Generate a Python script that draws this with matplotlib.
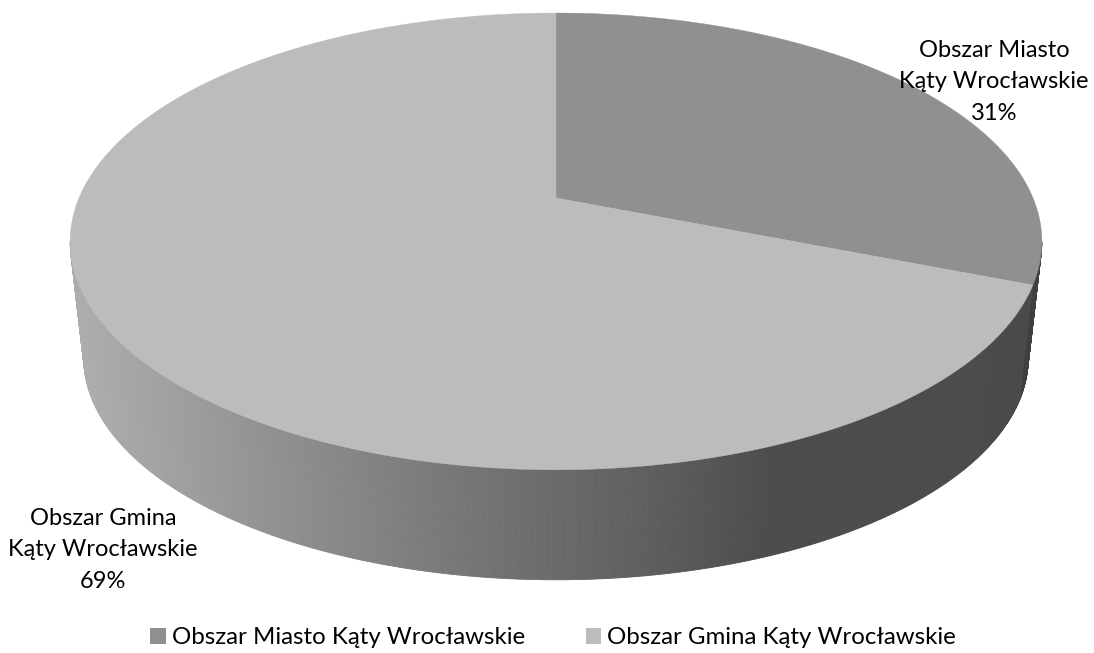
# -*- coding: utf-8 -*-
import matplotlib
matplotlib.use('Agg')
import matplotlib.pyplot as plt
from matplotlib.patches import Polygon, Patch
import numpy as np

labels = ['Obszar Miasto\nKąty Wrocławskie', 'Obszar Gmina\nKąty Wrocławskie']
legend_labels = ['Obszar Miasto Kąty Wrocławskie', 'Obszar Gmina Kąty Wrocławskie']
shares = [31, 69]
colors = ['#909090', '#bcbcbc']
side_colors = ['#3f3f3f', None]

plt.rcParams['font.family'] = ['Lato', 'DejaVu Sans']

# perspective of the pie top, in image pixels
CX, CY = 556, 198
K, B, A = 0.190, 182.5, 477.0
# side face: top rim scaled towards a vanishing point below the pie
SCALE, VY = 0.972, 4400.0


def project(theta):
    """ theta is clockwise from 12 o'clock """
    x, y = np.sin(theta), np.cos(theta)
    den = 1 + K * y
    return CX + A * x / den, (CY - B * y) / den


def lower(px, py):
    return CX + SCALE * (px - CX), VY + SCALE * (py - VY)


def side_grey(x):
    return np.interp(x, [75, 250, 450, 650, 770, 1050], [0.68, 0.58, 0.47, 0.37, 0.30, 0.29])


fig = plt.figure(figsize=(10.94, 6.53), dpi=100)
ax = fig.add_axes([0, 0, 1, 1])
ax.set_xlim(0, 1094)
ax.set_ylim(653, 0)
ax.axis('off')

edges = np.cumsum([0] + shares) / sum(shares) * 2 * np.pi

# side face as thin strips, only from widest point to widest point
start = np.arccos(-K)
thetas = np.linspace(start, 2 * np.pi - start, 500)
order = np.argsort(np.abs(thetas - np.pi))[::-1]
for i in order:
    if i == len(thetas) - 1:
        continue
    t = np.array([thetas[i], thetas[i + 1]])
    px, py = project(t)
    qx, qy = lower(px, py)
    g = side_grey(px.mean())
    c = (g, g, g)
    if thetas[i] < edges[1]:
        c = side_colors[0]
    ax.add_patch(Polygon([(px[0], py[0]), (px[1], py[1]), (qx[1], qy[1]), (qx[0], qy[0])],
                         closed=True, fc=c, ec=c, lw=0.6, zorder=1))

# top of the pie
for i in range(len(shares)):
    t = np.linspace(edges[i], edges[i + 1], 300)
    px, py = project(t)
    pts = [(CX, CY)] + list(zip(px, py))
    ax.add_patch(Polygon(pts, closed=True, fc=colors[i], ec=colors[i], lw=0.3, zorder=2))

ax.text(994, 82, '%s\n%d%%' % (labels[0], shares[0]), ha='center', va='center',
        fontsize=17, linespacing=1.63, color='#000000', zorder=3)
ax.text(103, 550, '%s\n%d%%' % (labels[1], shares[1]), ha='center', va='center',
        fontsize=17, linespacing=1.63, color='#000000', zorder=3)

handles = [Patch(fc=colors[i], ec='none', label=legend_labels[i]) for i in range(2)]
ax.legend(handles=handles, ncol=2, loc='center', bbox_to_anchor=(553 / 1094, 1 - 638 / 653),
          frameon=False, fontsize=17.3, handlelength=0.64, handleheight=0.64,
          handletextpad=0.25, columnspacing=2.54, labelcolor='#000000')

fig.savefig('out.png', dpi=100)
